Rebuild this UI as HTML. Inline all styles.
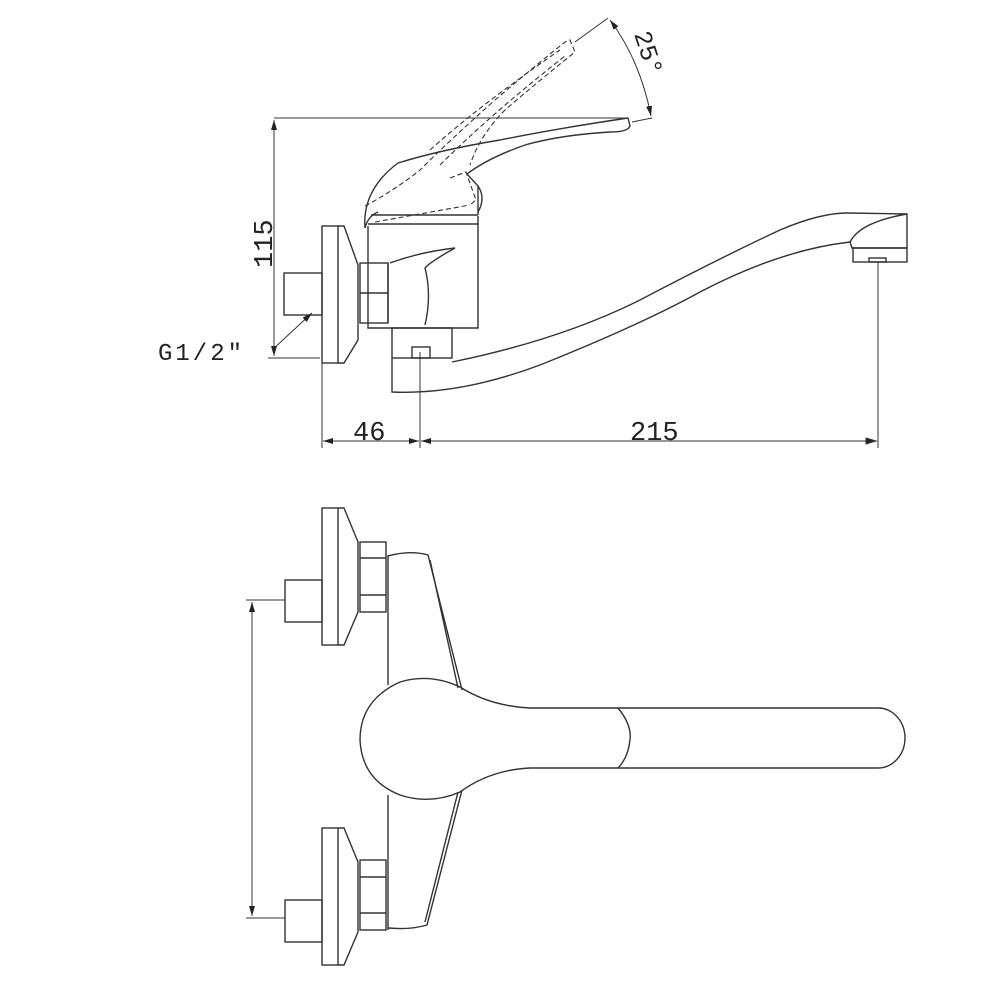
<!DOCTYPE html>
<html><head><meta charset="utf-8"><style>
html,body{margin:0;padding:0;background:#fff;}
svg{display:block;}
text{font-family:"Liberation Mono","DejaVu Sans Mono",monospace;fill:#222;}
</style></head><body>
<svg width="1000" height="1000" viewBox="0 0 1000 1000" xmlns="http://www.w3.org/2000/svg">
<defs>
<marker id="a" viewBox="0 0 10 6" refX="10" refY="3" markerWidth="10" markerHeight="6" orient="auto-start-reverse" markerUnits="userSpaceOnUse"><path d="M0,0 L10,3 L0,6 z" fill="#222"/></marker>
</defs>
<g fill="none" stroke="#333" stroke-width="1.4">
<!-- ===== TOP VIEW ===== -->
<rect x="322" y="226" width="16" height="137"/>
<path d="M338,226 L344,226 L358,265 L358,340 L344,363 L338,363"/>
<rect x="284" y="273" width="38" height="42"/>
<rect x="360" y="263" width="28" height="60"/>
<line x1="360" y1="293" x2="388" y2="293"/>
<path d="M368,226 L368,328 L478,328 L478,216"/>
<path d="M390,263 Q420,252 455,248 Q430,262 425,268 Q432,295 425,325"/>
<path d="M388,263 L388,323"/>
<rect x="392" y="328" width="60" height="30"/>
<rect x="412" y="347" width="18" height="11"/>
<!-- handle -->
<path d="M365,228 Q362,190 398,163 Q440,150 500,140 Q560,128 628,118 L630,126 Q628,132 610,132 Q560,135 525,145 Q488,158 467,174"/>
<path d="M467,174 L478,186 L478,215"/>
<path d="M478,186 Q486,198 478,212"/>
<path d="M371,215 L478,215"/>
<path d="M365,228 Q368,216 378,212"/>
<path d="M368,224 L478,224"/>
<g stroke-dasharray="5,3" stroke-width="1.1">
<path d="M365,206 Q395,190 420,170 Q450,140 495,100 Q530,70 565,42 L570,40 L575,52 Q540,80 505,110 Q480,135 470,165"/>
<path d="M375,222 L470,205"/>
<path d="M430,150 Q480,105 560,50"/>
<path d="M440,165 Q490,115 565,56"/>
<path d="M450,178 L466,172 L476,200 L470,205"/>
</g>
<!-- spout -->
<path d="M452,362 Q560,340 640,300 Q720,258 780,230 Q820,213 847,213 L907,214 L907,248"/>
<path d="M392,358 L392,392 Q460,395 540,365 Q640,325 700,292 Q780,250 850,242"/>
<path d="M850,242 Q860,222 907,214"/>
<path d="M850,242 L852,248 L907,248"/>
<rect x="853" y="248" width="54" height="14"/>
<rect x="869" y="258" width="17" height="4"/>
</g>
<g fill="none" stroke="#333" stroke-width="1">
<line x1="274" y1="118" x2="627" y2="118"/>
<line x1="274" y1="120" x2="274" y2="356" marker-start="url(#a)" marker-end="url(#a)"/>
<line x1="268" y1="358" x2="320" y2="358"/>
<line x1="272" y1="350" x2="312" y2="313" marker-end="url(#a)"/>
<line x1="322" y1="363" x2="322" y2="448"/>
<line x1="420" y1="352" x2="420" y2="448"/>
<line x1="878" y1="262" x2="878" y2="448"/>
<line x1="323" y1="441" x2="419" y2="441" marker-start="url(#a)" marker-end="url(#a)"/>
<line x1="421" y1="441" x2="877" y2="441" marker-start="url(#a)"/>
<path d="M876,441 L866,438 L866,444 z" fill="#222"/>
<line x1="575" y1="42" x2="608" y2="18"/>
<line x1="632" y1="122" x2="652" y2="118"/>
<path d="M610,20 Q640,60 651,116" marker-start="url(#a)" marker-end="url(#a)"/>
</g>
<text x="0" y="0" font-size="27" transform="translate(272,268) rotate(-90)">115</text>
<text x="158" y="360" font-size="24" letter-spacing="3">G1/2"</text>
<text x="353" y="440" font-size="27">46</text>
<text x="630" y="440" font-size="27">215</text>
<text x="0" y="0" font-size="25" transform="translate(634,34) rotate(72)">25°</text>
<!-- ===== BOTTOM VIEW ===== -->
<g fill="none" stroke="#333" stroke-width="1.4">
<rect x="322" y="508" width="16" height="137"/>
<path d="M338,508 L344,508 L358,542 L358,612 L344,645 L338,645"/>
<rect x="285" y="580" width="37" height="42"/>
<rect x="360" y="542" width="26" height="70"/>
<line x1="360" y1="558" x2="386" y2="558"/>
<line x1="360" y1="595" x2="386" y2="595"/>
<rect x="322" y="828" width="16" height="137"/>
<path d="M338,828 L344,828 L358,862 L358,932 L344,965 L338,965"/>
<rect x="285" y="900" width="37" height="42"/>
<rect x="360" y="860" width="26" height="70"/>
<line x1="360" y1="877" x2="386" y2="877"/>
<line x1="360" y1="913" x2="386" y2="913"/>
<path d="M388,555 L388,685"/>
<path d="M388,795 L388,930"/>
<path d="M388,556 Q410,550 428,555 L462,690"/>
<path d="M430,560 L458,688"/>
<path d="M462,790 L427,925 Q410,930 388,928"/>
<path d="M458,792 L425,922"/>
<path d="M460,687 Q430,673 400,682 Q360,700 360,740 Q362,780 400,795 Q430,805 460,792 Q490,770 530,768 L625,768 L878,768 A27,30 0 0 0 878,708 L625,708 L530,708 Q490,706 460,687"/>
<path d="M618,708 Q632,725 630,740 Q628,758 618,768"/>
</g>
<g fill="none" stroke="#333" stroke-width="1">
<line x1="246" y1="600" x2="285" y2="600"/>
<line x1="246" y1="918" x2="285" y2="918"/>
<line x1="252" y1="602" x2="252" y2="916" marker-start="url(#a)" marker-end="url(#a)"/>
</g>
</svg>
</body></html>
